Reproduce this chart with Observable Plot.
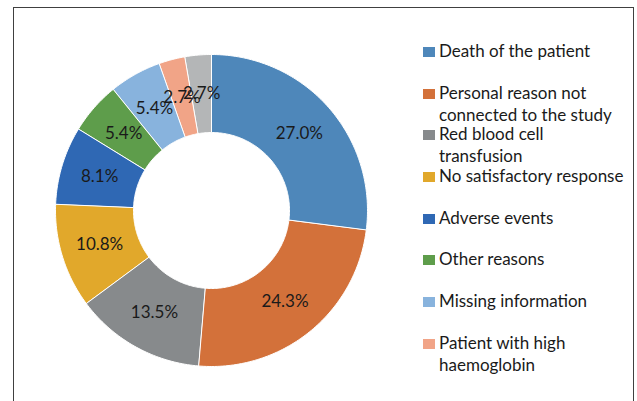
<!DOCTYPE html>
<html>
<head>
<meta charset="utf-8">
<script src="https://cdn.jsdelivr.net/npm/d3@7"></script>
<script src="https://cdn.jsdelivr.net/npm/@observablehq/plot@0.6"></script>
<style>
  html, body { margin: 0; padding: 0; background: #fff; }
  #wrap { position: relative; width: 637px; height: 401px; overflow: hidden; background: #fff; }
  #frame { position: absolute; left: 13px; top: 7px; width: 621px; height: 420px; border: 1px solid #404040; box-sizing: border-box; }
  #chart { position: absolute; left: 0; top: 0; }
  #legend { position: absolute; left: 423px; top: 40px; font-family: Lato, "Open Sans", sans-serif; font-size: 17px; color: #1a1a1a; }
  .item { position: relative; height: 41.7px; }
  .sw { position: absolute; left: 0; top: 7px; width: 12px; height: 10px; }
  .txt { position: absolute; left: 16px; top: 0; line-height: 22px; white-space: nowrap; }
</style>
</head>
<body>
<div id="wrap">
  <div id="frame"></div>
  <div id="chart"></div>
  <div id="legend"></div>
</div>
<script>
const categories = [
  "Death of the patient",
  "Personal reason not connected to the study",
  "Red blood cell transfusion",
  "No satisfactory response",
  "Adverse events",
  "Other reasons",
  "Missing information",
  "Patient with high haemoglobin",
  "Other"
];
const values = [27.0, 24.3, 13.5, 10.8, 8.1, 5.4, 5.4, 2.7, 2.7];
const colors = ["#4E87BA", "#D3713A", "#878A8C", "#E1A82B", "#2F68B4", "#5E9D4B", "#88B3DD", "#F1A487", "#B4B6B7"];
const legendLines = [
  ["Death of the patient"],
  ["Personal reason not", "connected to the study"],
  ["Red blood cell", "transfusion"],
  ["No satisfactory response"],
  ["Adverse events"],
  ["Other reasons"],
  ["Missing information"],
  ["Patient with high", "haemoglobin"]
];

const innerR = 0.5, outerR = 1, labelR = 0.75;
const arcs = d3.pie().sort(null).value(d => d.value)(categories.map((c, i) => ({category: c, value: values[i]})));

const features = arcs.map(a => {
  const ring = [];
  const n = Math.max(2, Math.ceil((a.endAngle - a.startAngle) / (Math.PI / 180)));
  for (let k = 0; k <= n; k++) {
    const t = a.startAngle + (a.endAngle - a.startAngle) * k / n;
    ring.push([outerR * Math.sin(t), -outerR * Math.cos(t)]);
  }
  for (let k = n; k >= 0; k--) {
    const t = a.startAngle + (a.endAngle - a.startAngle) * k / n;
    ring.push([innerR * Math.sin(t), -innerR * Math.cos(t)]);
  }
  ring.push(ring[0]);
  return {type: "Feature", properties: {category: a.data.category}, geometry: {type: "Polygon", coordinates: [ring]}};
});

const labels = arcs.map(a => {
  const m = (a.startAngle + a.endAngle) / 2;
  return {x: labelR * Math.sin(m), y: -labelR * Math.cos(m), label: a.data.value.toFixed(1) + "%"};
});

const plot = Plot.plot({
  width: 420,
  height: 401,
  marginLeft: 55,
  marginRight: 53,
  marginTop: 54,
  marginBottom: 35,
  projection: {type: "identity", domain: {type: "MultiPoint", coordinates: [[-outerR, -outerR], [outerR, outerR]]}},
  color: {domain: categories, range: colors},
  style: {fontFamily: "Lato, 'Open Sans', sans-serif", background: "transparent"},
  marks: [
    Plot.geo(features, {fill: d => d.properties.category, stroke: "white", strokeWidth: 1}),
    Plot.text(labels, {x: "x", y: "y", text: "label", fontSize: 17, fill: "#1a1a1a"})
  ]
});
document.getElementById("chart").appendChild(plot);

const legend = document.getElementById("legend");
legendLines.forEach((lines, i) => {
  const item = document.createElement("div");
  item.className = "item";
  const sw = document.createElement("div");
  sw.className = "sw";
  sw.style.background = colors[i];
  const txt = document.createElement("div");
  txt.className = "txt";
  lines.forEach((l, j) => {
    if (j) txt.appendChild(document.createElement("br"));
    txt.appendChild(document.createTextNode(l));
  });
  item.appendChild(sw);
  item.appendChild(txt);
  legend.appendChild(item);
});
</script>
</body>
</html>
